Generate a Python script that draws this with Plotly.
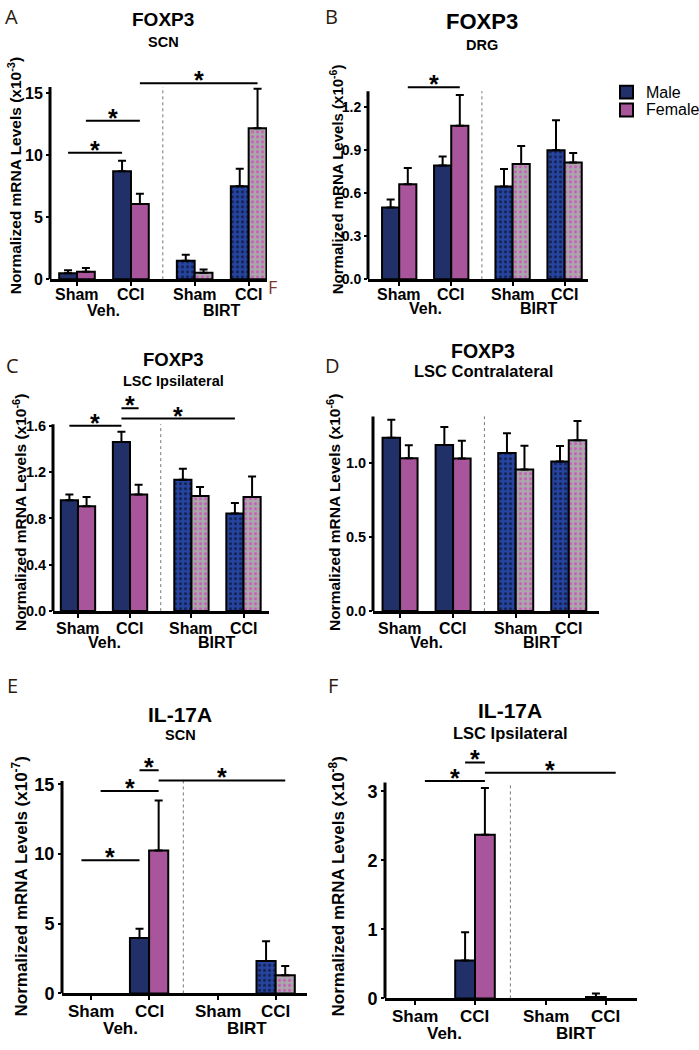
import plotly.graph_objects as go

W, H = 699, 1050

groups = ["Sham", "CCI", "Sham", "CCI"]
treatments = ["Veh.", "BIRT"]
sexes = ["Male", "Female"]

# A: FOXP3 SCN (x10^-3)
a_male = [0.48, 8.70, 1.49, 7.50]
a_male_sem = [0.25, 0.85, 0.48, 1.40]
a_female = [0.61, 6.06, 0.53, 12.18]
a_female_sem = [0.30, 0.83, 0.27, 3.17]
a_sig = [(0, "M", 1, "M", 10.2), (0, "F", 1, "F", 12.77), (1, "F", 3, "F", 15.8)]

# B: FOXP3 DRG (x10^-6)
b_male = [0.500, 0.793, 0.646, 0.899]
b_male_sem = [0.056, 0.062, 0.122, 0.209]
b_female = [0.662, 1.069, 0.802, 0.814]
b_female_sem = [0.113, 0.214, 0.127, 0.066]
b_sig = [(0, "F", 1, "F", 1.338)]

# C: FOXP3 LSC Ipsilateral (x10^-6)
c_male = [0.957, 1.460, 1.134, 0.843]
c_male_sem = [0.049, 0.089, 0.095, 0.091]
c_female = [0.906, 1.006, 0.994, 0.986]
c_female_sem = [0.080, 0.085, 0.077, 0.177]
c_sig = [(0, "M", 1, "M", 1.60), (1, "M", 1, "F", 1.751), (1, "M", 3, "M", 1.663)]

# D: FOXP3 LSC Contralateral (x10^-6)
d_male = [1.167, 1.118, 1.064, 1.007]
d_male_sem = [0.122, 0.122, 0.134, 0.104]
d_female = [1.029, 1.027, 0.953, 1.151]
d_female_sem = [0.087, 0.120, 0.160, 0.129]
d_sig = []

# E: IL-17A SCN (x10^-7)
e_male = [0, 3.98, 0, 2.32]
e_male_sem = [0, 0.66, 0, 1.42]
e_female = [0, 10.26, 0, 1.30]
e_female_sem = [0, 3.58, 0, 0.67]
e_sig = [(0, "M", 1, "M", 9.55), (0, "F", 1, "F", 14.53),
         (1, "M", 1, "F", 16.02), (1, "F", 3, "F", 15.28)]

# F: IL-17A LSC Ipsilateral (x10^-8)
f_male = [0, 0.55, 0, 0.02]
f_male_sem = [0, 0.41, 0, 0.05]
f_female = [0, 2.37, 0, 0]
f_female_sem = [0, 0.68, 0, 0]
f_sig = [(0, "F", 1, "F", 3.15), (1, "M", 1, "F", 3.42), (1, "F", 3, "F", 3.27)]

# colours
MALE = "#22306a"
MALE_BIRT = "#2545a0"
MALE_DOT = "#16214f"
FEMALE = "#a9559b"
FEMALE_BIRT = "#a9a9a9"
FEMALE_DOT = "#c95cbd"
LETTER = "#2b1a10"
FONT = "Liberation Sans"

centers = [0.5, 1.5, 2.68, 3.68]
bw = 0.33
offs = {"M": -bw / 2, "F": bw / 2}

panels = [
    dict(letter="A", gene="FOXP3", tissue="SCN", exp="-3",
         male=a_male, male_sem=a_male_sem, female=a_female, female_sem=a_female_sem, sig=a_sig,
         ticks=[0, 5, 10, 15], ticktext=["0", "5", "10", "15"], axtop=15.5,
         box=(50, 267, 282, 70), yr=16.92, xr=(0, 4.02), fs=16, yfs=16, tfs=15.5, lab=(15, 31),
         gfs=19, sfs=14.5, letter_xy=(11, 17), title_y=(20, 42), title_x=163, ytitle=(15, 178)),
    dict(letter="B", gene="FOXP3", tissue="DRG", exp="-6",
         male=b_male, male_sem=b_male_sem, female=b_female, female_sem=b_female_sem, sig=b_sig,
         ticks=[0, 0.3, 0.6, 0.9, 1.2], ticktext=["0.0", "0.3", "0.6", "0.9", "1.2"], axtop=1.31,
         box=(368, 588, 282, 70), yr=1.462, xr=(-0.1, 4.13), fs=16, yfs=14, tfs=15, lab=(15, 29),
         gfs=22, sfs=14.5, letter_xy=(331, 17), title_y=(22, 45), title_x=482, ytitle=(336, 181)),
    dict(letter="C", gene="FOXP3", tissue="LSC Ipsilateral", exp="-6",
         male=c_male, male_sem=c_male_sem, female=c_female, female_sem=c_female_sem, sig=c_sig,
         ticks=[0, 0.4, 0.8, 1.2, 1.6], ticktext=["0.0", "0.4", "0.8", "1.2", "1.6"], axtop=1.614,
         box=(53, 269, 617, 400), yr=1.856, xr=(0.02, 4.17), fs=16, yfs=14.5, tfs=15.5, lab=(17, 31),
         gfs=18.5, sfs=14.5, letter_xy=(12, 369), title_y=(363, 385), title_x=173, ytitle=(20, 518)),
    dict(letter="D", gene="FOXP3", tissue="LSC Contralateral", exp="-6",
         male=d_male, male_sem=d_male_sem, female=d_female, female_sem=d_female_sem, sig=d_sig,
         ticks=[0, 0.5, 1.0], ticktext=["0.0", "0.5", "1.0"], axtop=1.311,
         box=(373, 599, 617, 400), yr=1.447, xr=(-0.01, 4.25), fs=16, yfs=14.5, tfs=15.5, lab=(17, 31),
         gfs=19.5, sfs=16.5, letter_xy=(332, 369), title_y=(354, 375), title_x=483, ytitle=(334, 518)),
    dict(letter="E", gene="IL-17A", tissue="SCN", exp="-7",
         male=e_male, male_sem=e_male_sem, female=e_female, female_sem=e_female_sem, sig=e_sig,
         ticks=[0, 5, 10, 15], ticktext=["0", "5", "10", "15"], axtop=15.24,
         box=(62, 307, 1003, 760), yr=17.27, xr=(0, 4.22), fs=17, yfs=18, tfs=17, lab=(18, 35),
         gfs=21, sfs=14.5, letter_xy=(12, 692), title_y=(721, 742), title_x=180, ytitle=(20, 895)),
    dict(letter="F", gene="IL-17A", tissue="LSC Ipsilateral", exp="-8",
         male=f_male, male_sem=f_male_sem, female=f_female, female_sem=f_female_sem, sig=f_sig,
         ticks=[0, 1, 2, 3], ticktext=["0", "1", "2", "3"], axtop=3.13,
         box=(385, 637, 1008, 760), yr=3.56, xr=(0, 4.2), fs=17, yfs=18, tfs=17, lab=(18, 35),
         gfs=21, sfs=16.5, letter_xy=(333, 692), title_y=(717, 740), title_x=510, ytitle=(337, 895)),
]


def bold(size):
    return dict(family=FONT, size=size, color="black", weight="bold")


fig = go.Figure()
layout = {}
shapes = []
annotations = []

for i, p in enumerate(panels):
    n = "" if i == 0 else str(i + 1)
    xa, ya = "x" + n, "y" + n
    left, right, bottom, top = p["box"]

    layout["xaxis" + n] = dict(
        domain=[left / W, right / W], anchor=ya, range=list(p["xr"]),
        showgrid=False, zeroline=False, showline=True, linewidth=3, linecolor="black",
        ticks="outside", ticklen=4, tickwidth=2, tickcolor="black",
        tickvals=centers, showticklabels=False,
    )
    layout["yaxis" + n] = dict(
        domain=[1 - bottom / H, 1 - top / H], anchor=xa, range=[0, p["yr"]],
        showgrid=False, zeroline=False, showline=False,
        ticks="outside", ticklen=3, tickwidth=2, tickcolor="black",
        tickvals=p["ticks"], ticktext=p["ticktext"], tickfont=bold(p["yfs"]),
    )

    for sex, vals, sem, base, birt, dot, name in [
        ("M", p["male"], p["male_sem"], MALE, MALE_BIRT, MALE_DOT, "Male"),
        ("F", p["female"], p["female_sem"], FEMALE, FEMALE_BIRT, FEMALE_DOT, "Female"),
    ]:
        # Veh. groups (solid) and BIRT groups (dotted pattern)
        for idx, patterned in [((0, 1), False), ((2, 3), True)]:
            ys = [vals[k] if vals[k] > 0 else None for k in idx]
            errs = [sem[k] if vals[k] > 0 else None for k in idx]
            marker = dict(color=birt if patterned else base, line=dict(color="black", width=2))
            if patterned:
                marker["pattern"] = dict(shape=".", fillmode="replace", bgcolor=birt,
                                         fgcolor=dot, size=5, solidity=0.3)
            fig.add_trace(go.Bar(
                x=[centers[k] + offs[sex] for k in idx], y=ys, width=bw,
                xaxis=xa, yaxis=ya, name=name, showlegend=False, marker=marker,
                error_y=dict(type="data", array=errs, arrayminus=[0] * len(idx), symmetric=False,
                             color="black", thickness=2, width=4),
            ))

    # y axis line up to its top
    shapes.append(dict(type="line", xref=xa + " domain", yref=ya, x0=0, x1=0, y0=0, y1=p["axtop"],
                       line=dict(color="black", width=3)))
    # dotted divider between Veh. and BIRT
    mid = (centers[1] + centers[2]) / 2
    shapes.append(dict(type="line", xref=xa, yref=ya, x0=mid, x1=mid, y0=0, y1=p["axtop"],
                       line=dict(color="#777777", width=1, dash="dot")))

    # significance bars
    for g0, s0, g1, s1, h in p["sig"]:
        x0 = centers[g0] + offs[s0]
        x1 = centers[g1] + offs[s1]
        shapes.append(dict(type="line", xref=xa, yref=ya, x0=x0, x1=x1, y0=h, y1=h,
                           line=dict(color="black", width=2)))
        annotations.append(dict(xref=xa, yref=ya, x=(x0 + x1) / 2, y=h, text="*",
                                showarrow=False, yanchor="middle", yshift=3, font=bold(25)))

    # group labels and treatment labels
    for c, g in zip(centers, groups):
        annotations.append(dict(xref=xa, yref=ya, x=c, y=0, text=g, showarrow=False,
                                yanchor="middle", yshift=-p["lab"][0], font=bold(p["fs"])))
    for t, (g0, g1) in zip(treatments, [(0, 1), (2, 3)]):
        annotations.append(dict(xref=xa, yref=ya, x=(centers[g0] + centers[g1]) / 2, y=0,
                                text=t, showarrow=False, yanchor="middle", yshift=-p["lab"][1],
                                font=bold(p["fs"])))

    # titles
    annotations.append(dict(xref="paper", yref="paper", x=p["title_x"] / W, y=1 - p["title_y"][0] / H,
                            text=p["gene"], showarrow=False, xanchor="center", yanchor="middle",
                            font=bold(p["gfs"])))
    annotations.append(dict(xref="paper", yref="paper", x=p["title_x"] / W, y=1 - p["title_y"][1] / H,
                            text=p["tissue"], showarrow=False, xanchor="center", yanchor="middle",
                            font=bold(p["sfs"])))
    # y title
    annotations.append(dict(xref="paper", yref="paper", x=p["ytitle"][0] / W, y=1 - p["ytitle"][1] / H,
                            text="Normalized mRNA Levels (x10<sup>" + p["exp"] + "</sup>)",
                            textangle=-90, showarrow=False, xanchor="center", yanchor="middle",
                            font=bold(p["tfs"])))
    # panel letter
    annotations.append(dict(xref="paper", yref="paper", x=p["letter_xy"][0] / W, y=1 - p["letter_xy"][1] / H,
                            text=p["letter"], showarrow=False, xanchor="center", yanchor="middle",
                            font=dict(family="Open Sans", size=20, color=LETTER)))

# legend (drawn as keyed squares beside panel B)
for k, (name, col) in enumerate(zip(sexes, [MALE, FEMALE])):
    yc = 93 + 18 * k
    shapes.append(dict(type="rect", xref="paper", yref="paper",
                       x0=620 / W, x1=633 / W, y0=1 - (yc + 6.5) / H, y1=1 - (yc - 6.5) / H,
                       fillcolor=col, line=dict(color="black", width=2)))
    annotations.append(dict(xref="paper", yref="paper", x=644 / W, y=1 - yc / H, text=name,
                            showarrow=False, xanchor="left", yanchor="middle",
                            font=dict(family=FONT, size=16, color="black")))

# stray label near panel A axis end
annotations.append(dict(xref="paper", yref="paper", x=272 / W, y=1 - 290 / H, text="F",
                        showarrow=False, xanchor="center", yanchor="middle",
                        font=dict(family="Open Sans", size=18, color="#7a3a2a")))

fig.update_layout(
    **layout,
    shapes=shapes,
    annotations=annotations,
    barmode="overlay",
    showlegend=False,
    width=W, height=H,
    margin=dict(l=0, r=0, t=0, b=0),
    plot_bgcolor="white", paper_bgcolor="white",
)

fig.write_html("out.html", config={"displayModeBar": False},
               post_script="document.body.style.margin='0';")
